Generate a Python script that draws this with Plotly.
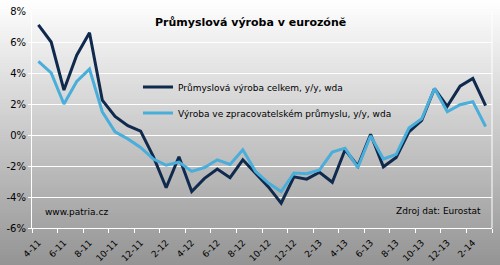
import plotly.graph_objects as go

months = ["4-11","5-11","6-11","7-11","8-11","9-11","10-11","11-11","12-11","1-12","2-12","3-12",
          "4-12","5-12","6-12","7-12","8-12","9-12","10-12","11-12","12-12","1-13","2-13","3-13",
          "4-13","5-13","6-13","7-13","8-13","9-13","10-13","11-13","12-13","1-14","2-14","3-14"]
total = [7.1, 6.0, 2.9, 5.15, 6.6, 2.25, 1.2, 0.6, 0.25, -1.4, -3.4, -1.4,
         -3.65, -2.8, -2.2, -2.75, -1.6, -2.5, -3.35, -4.4, -2.7, -2.85, -2.4, -3.05,
         -0.95, -2.0, 0.05, -2.05, -1.45, 0.2, 0.95, 3.0, 1.85, 3.15, 3.65, 1.9]
manuf = [4.75, 4.0, 2.0, 3.45, 4.25, 1.5, 0.2, -0.25, -0.8, -1.55, -1.95, -1.75,
         -2.35, -2.1, -1.6, -1.9, -0.95, -2.35, -3.1, -3.65, -2.45, -2.5, -2.25, -1.1,
         -0.85, -2.1, -0.05, -1.55, -1.25, 0.45, 1.05, 3.0, 1.5, 1.95, 2.15, 0.55]
name_total = "Průmyslová výroba celkem, y/y, wda"
name_manuf = "Výroba ve zpracovatelském průmyslu, y/y, wda"
title = "Průmyslová výroba v eurozóně"
y_ticks = [-6, -4, -2, 0, 2, 4, 6, 8]
y_labels = ["-6%", "-4%", "-2%", "0%", "2%", "4%", "6%", "8%"]

W, H = 500, 265
ml, mr, mt, mb = 32, 8, 11, 37
pw, ph = W - ml - mr, H - mt - mb

idx = list(range(len(months)))
FONT = "DejaVu Sans"

fig = go.Figure()
fig.add_trace(go.Scatter(x=idx, y=total, mode="lines", name=name_total,
                         line=dict(color="#102a4e", width=3), legendgroup="a"))
fig.add_trace(go.Scatter(x=idx, y=manuf, mode="lines", name=name_manuf,
                         line=dict(color="#4aaedb", width=3), legendgroup="b"))

# background vertical gradient (white -> grey)
shapes = []
step = 3
top_c, bot_c = 255, 148
for py in range(0, H, step):
    t = (py + step / 2) / H
    c = int(round(top_c + (bot_c - top_c) * t))
    y0 = (H - mb - (py + step)) / ph
    y1 = (H - mb - py) / ph
    shapes.append(dict(type="rect", xref="paper", yref="paper",
                       x0=-ml / pw - 0.01, x1=(W - ml) / pw + 0.01, y0=y0, y1=y1,
                       fillcolor=f"rgb({c},{c},{c})", line=dict(width=0), layer="below"))
# right plot border
shapes.append(dict(type="line", xref="paper", yref="paper", x0=1, x1=1, y0=0, y1=1,
                   line=dict(color="white", width=1), layer="below"))

fig.update_layout(
    width=W, height=H,
    margin=dict(l=ml, r=mr, t=mt, b=mb, autoexpand=False),
    paper_bgcolor="rgba(0,0,0,0)", plot_bgcolor="rgba(0,0,0,0)",
    font=dict(family=FONT, size=9, color="black"),
    shapes=shapes,
    showlegend=True,
    legend=dict(x=(138 - ml) / pw, y=(H - mb - 100) / ph, xanchor="left", yanchor="middle",
                bgcolor="rgba(0,0,0,0)", borderwidth=0, font=dict(size=9, family=FONT),
                traceorder="grouped", tracegroupgap=7),
    xaxis=dict(range=[-0.5, len(months) - 0.5], tickmode="array",
               tickvals=idx[::2], ticktext=months[::2], tickangle=-45,
               ticks="", showgrid=False, zeroline=False, ticklabelstandoff=5,
               automargin=False,
               showline=True, linecolor="white", linewidth=1,
               tickfont=dict(size=9, family=FONT),
               minor=dict(tickvals=[i - 0.5 for i in idx[::2]] + [len(months) - 0.5],
                          ticks="outside", ticklen=4, tickcolor="white", showgrid=False)),
    yaxis=dict(range=[-6, 8], tickmode="array", tickvals=y_ticks, ticktext=y_labels,
               showgrid=True, gridcolor="white", gridwidth=1, zeroline=False,
               showline=True, linecolor="white", linewidth=1, automargin=False,
               ticks="outside", ticklen=3, tickcolor="white",
               tickfont=dict(size=10, family=FONT)),
    annotations=[
        dict(text="<b>" + title + "</b>", xref="paper", yref="paper",
             x=(250 - ml) / pw, y=(H - mb - 23) / ph, xanchor="center", yanchor="middle",
             showarrow=False, font=dict(size=11, family=FONT)),
        dict(text="www.patria.cz", xref="paper", yref="paper",
             x=(43 - ml) / pw, y=(H - mb - 212) / ph, xanchor="left", yanchor="middle",
             showarrow=False, font=dict(size=9, family=FONT)),
        dict(text="Zdroj dat: Eurostat", xref="paper", yref="paper",
             x=(483 - ml) / pw, y=(H - mb - 211) / ph, xanchor="right", yanchor="middle",
             showarrow=False, font=dict(size=9, family=FONT)),
    ],
)

fig.write_html("out.html")
